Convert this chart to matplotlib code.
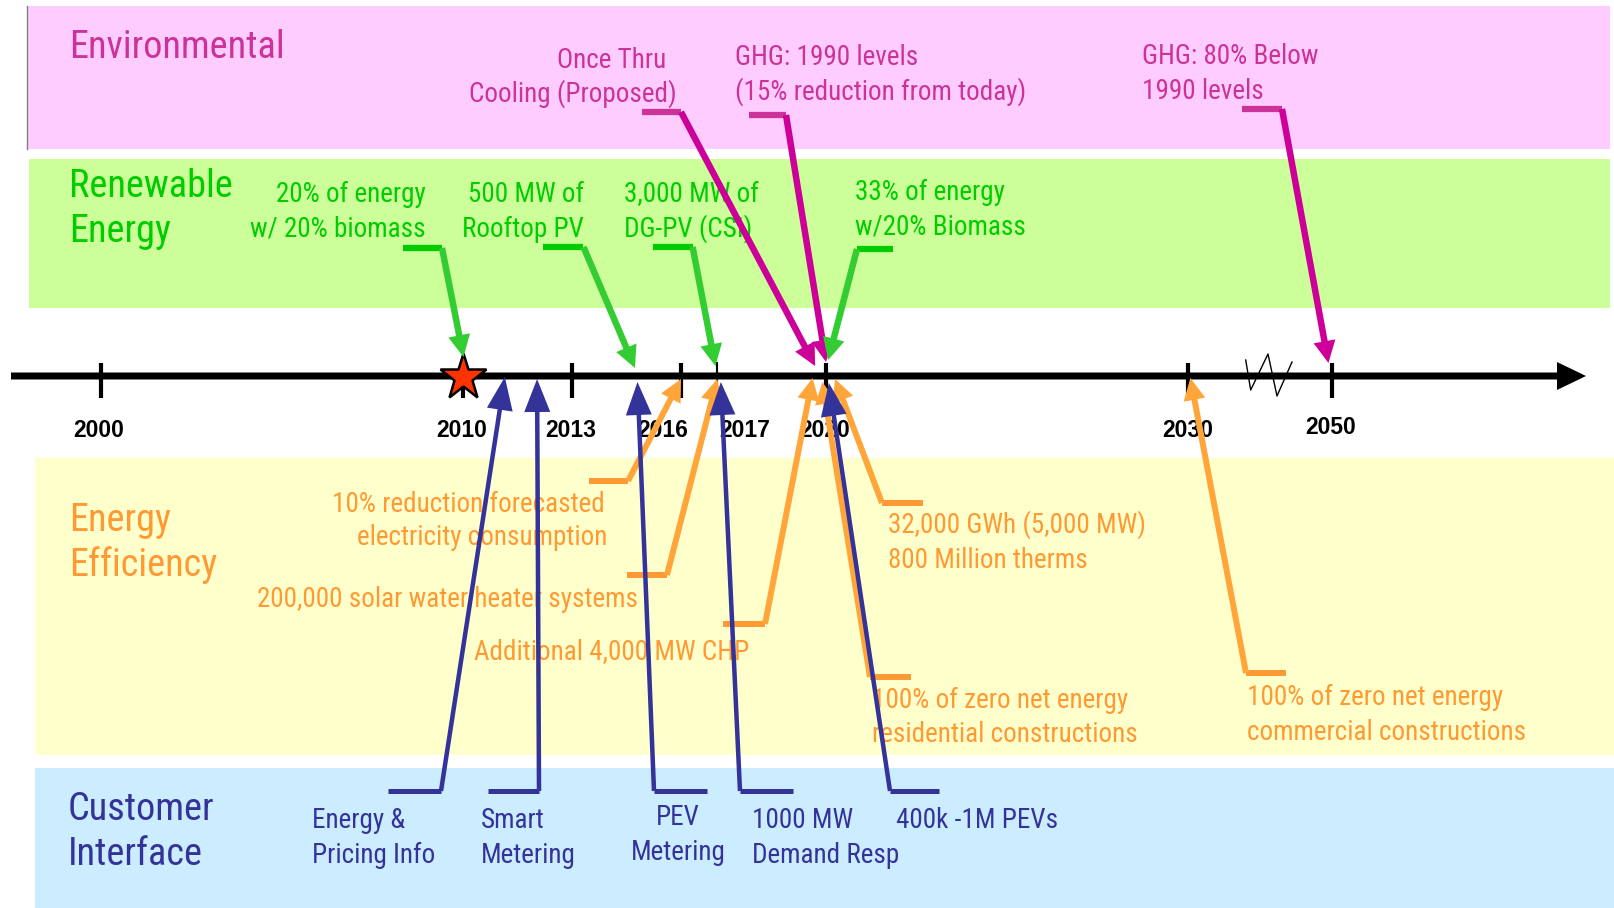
import matplotlib
matplotlib.use("Agg")
import matplotlib.pyplot as plt
from matplotlib.patches import Rectangle, FancyArrow

NARROW = ['Roboto Condensed', 'Archivo Narrow', 'IBM Plex Sans Condensed', 'Liberation Sans', 'DejaVu Sans']
plt.rcParams['font.family'] = NARROW

# ---------------- data ----------------
categories = ["Environmental", "Renewable\nEnergy", "Energy\nEfficiency", "Customer\nInterface"]
cat_text_colors = ["#CC3399", "#00CC00", "#FF9933", "#333399"]
cat_arrow_colors = ["#CC0099", "#33CC33", "#FFA53A", "#333399"]
cat_band_colors = ["#FFCCFF", "#CCFF99", "#FFFFCC", "#CCECFF"]

timeline_years = [2000, 2010, 2013, 2016, 2017, 2020, 2030, 2050]
timeline_labels = ["2000", "2010", "2013", "2016", "2017", "2020", "2030", "2050"]
star_year = 2010

env_labels = ["Once Thru\nCooling (Proposed)", "GHG: 1990 levels\n(15% reduction from today)",
              "GHG: 80% Below\n1990 levels"]
env_years = [2019.7, 2020.0, 2049.5]

ren_labels = ["20% of energy\nw/ 20% biomass", "500 MW of\nRooftop PV", "3,000 MW of\nDG-PV (CSI)",
              "33% of energy\nw/20% Biomass"]
ren_years = [2010.0, 2014.73, 2016.95, 2020.06]

eff_labels = ["10% reduction forecasted\nelectricity consumption", "200,000 solar water heater systems",
              "Additional 4,000 MW CHP", "32,000 GWh (5,000 MW)\n800 Million therms",
              "100% of zero net energy\nresidential constructions",
              "100% of zero net energy\ncommercial constructions"]
eff_years = [2016.0, 2017.0, 2019.63, 2020.25, 2019.9, 2030.26]

cust_labels = ["Energy &\nPricing Info", "Smart\nMetering", "PEV\nMetering", "1000 MW\nDemand Resp",
               "400k -1M PEVs"]
cust_years = [2011.14, 2012.03, 2014.8, 2017.1, 2020.08]

# ---------------- layout (pixels) ----------------
W, H = 1615, 908
X2000, PPY = 101.0, 36.25
AXIS_Y = 376

def tl_x(year):
    if year <= 2030:
        return X2000 + PPY * (year - 2000)
    return X2000 + PPY * (30 + (year - 2030) * (3.96 / 20))

bands = [(27.5, 6, 1610, 149), (29, 159, 1610, 308), (35, 458, 1615, 755), (35, 768, 1615, 908)]
headings = [(69, 58, 45), (69, 197, 45), (69, 531, 45), (68, 820, 45)]
year_lab_dx = [-2, -2, -1, -18, 27, -1, -1, -1]
year_lab_y = [437, 437, 437, 437, 437, 437, 437, 434]

# text: (x, first baseline, ha, line spacing, per-line dx); elbow: (x_end, x_corner, y); tip y
env_layout = [((677, 68, 'right', 34, (-11, 0)), (642, 681, 112), 366),
              ((735, 65, 'left', 35, (0, 0)), (749, 786, 115), 362),
              ((1142, 64, 'left', 35, (0, 0)), (1242, 1282, 109), 363)]
ren_layout = [((426, 202, 'right', 35, (0, 0)), (403, 442, 248), 357),
              ((584, 202, 'right', 35, (0, 0)), (543, 583.5, 247), 368),
              ((624, 202, 'left', 35, (0, 0)), (653.5, 692.6, 247), 366),
              ((855, 200, 'left', 35, (0, 0)), (893, 857, 249), 360)]
eff_layout = [((607, 512, 'right', 33, (-2, 0)), (588.6, 628, 481), 379),
              ((257, 607, 'left', 33, (0,)), (627, 667, 575), 379),
              ((474, 659, 'left', 33, (0,)), (723, 765, 624), 378),
              ((888, 533, 'left', 35, (0, 0)), (923, 882, 503), 379),
              ((872, 708, 'left', 34, (0, 0)), (911, 870, 677), 382),
              ((1247, 705, 'left', 35, (0, 0)), (1286, 1246, 673), 378)]
cust_layout = [((312, 828, 'left', 35, (0, 0)), (388, 441, 791), 377),
               ((481, 828, 'left', 35, (0, 0)), (488, 539, 791), 379),
               ((678, 825, 'center', 35, (0, 0)), (707, 654, 791), 382),
               ((752, 828, 'left', 35, (0, 0)), (793, 740, 791), 382),
               ((896, 828, 'left', 35, (0,)), (939, 890, 791), 383)]

LABEL_FS = 19.5
HEAD_FS = 27.5

# ---------------- drawing ----------------
fig = plt.figure(figsize=(W / 100, H / 100), dpi=100)
ax = fig.add_axes([0, 0, 1, 1])
ax.set_xlim(0, W)
ax.set_ylim(H, 0)
ax.axis('off')

for (x0, y0, x1, y1), c in zip(bands, cat_band_colors):
    ax.add_patch(Rectangle((x0, y0), x1 - x0, y1 - y0, facecolor=c, edgecolor='none', zorder=0))
ax.plot([27.5, 27.5], [6, 149], color='#808080', lw=1, zorder=1)

for name, (hx, hy, ls), c in zip(categories, headings, cat_text_colors):
    for i, line in enumerate(name.split("\n")):
        ax.text(hx, hy + i * ls, line, color=c, fontsize=HEAD_FS, ha='left', va='baseline', zorder=2)

# timeline
ax.add_patch(FancyArrow(11, AXIS_Y, 1586 - 11, 0, width=7, head_width=28, head_length=29,
                        length_includes_head=True, color='black', lw=0, zorder=3))
for yr, lab, dx, ly in zip(timeline_years, timeline_labels, year_lab_dx, year_lab_y):
    x = tl_x(yr)
    if yr == 2017:
        ax.plot([x, x], [362, 384], color='black', lw=1.5, solid_capstyle='butt', zorder=3)
    else:
        ax.plot([x, x], [363, 398], color='black', lw=3, solid_capstyle='butt', zorder=3)
    ax.text(x + dx, ly, lab, fontsize=16.5, fontweight='bold', ha='center', va='baseline',
            family=['Liberation Sans', 'DejaVu Sans'], color='black', zorder=3)

# axis break zigzag
ax.plot([1245.7, 1250.7, 1268, 1277, 1292], [360, 390, 354, 396, 362], color='black', lw=1.0, zorder=3)

# star for today
ax.plot([tl_x(star_year)], [377], marker='*', markersize=35, markerfacecolor='#FF3300',
        markeredgecolor='black', markeredgewidth=1.8, zorder=4, linestyle='none')


def draw_group(labels, years, layout, tcolor, acolor, shaft, hw, hl, elbow_lw, zo):
    for lab, yr, ((tx, ty, ha, ls, dxs), (xe, xc, ye), tipy) in zip(labels, years, layout):
        for i, line in enumerate(lab.split("\n")):
            ax.text(tx + dxs[i], ty + i * ls, line, color=tcolor, fontsize=LABEL_FS, ha=ha,
                    va='baseline', zorder=2)
        ax.plot([xe, xc], [ye, ye], color=acolor if acolor == '#333399' else tcolor,
                lw=elbow_lw, solid_capstyle='butt', zorder=zo)
        tipx = tl_x(yr)
        ax.add_patch(FancyArrow(xc, ye, tipx - xc, tipy - ye, width=shaft, head_width=hw, head_length=hl,
                                length_includes_head=True, color=acolor, lw=0, zorder=zo))


draw_group(eff_labels, eff_years, eff_layout, cat_text_colors[2], cat_arrow_colors[2], 6, 22, 22, 4.3, 5)
draw_group(env_labels, env_years, env_layout, cat_text_colors[0], cat_arrow_colors[0], 6.5, 22, 22, 4.5, 6)
draw_group(ren_labels, ren_years, ren_layout, cat_text_colors[1], cat_arrow_colors[1], 6.5, 22, 22, 4.5, 6)
draw_group(cust_labels, cust_years, cust_layout, cat_text_colors[3], cat_arrow_colors[3], 4.5, 26, 33, 3.6, 7)

fig.savefig("out.png", dpi=100)
